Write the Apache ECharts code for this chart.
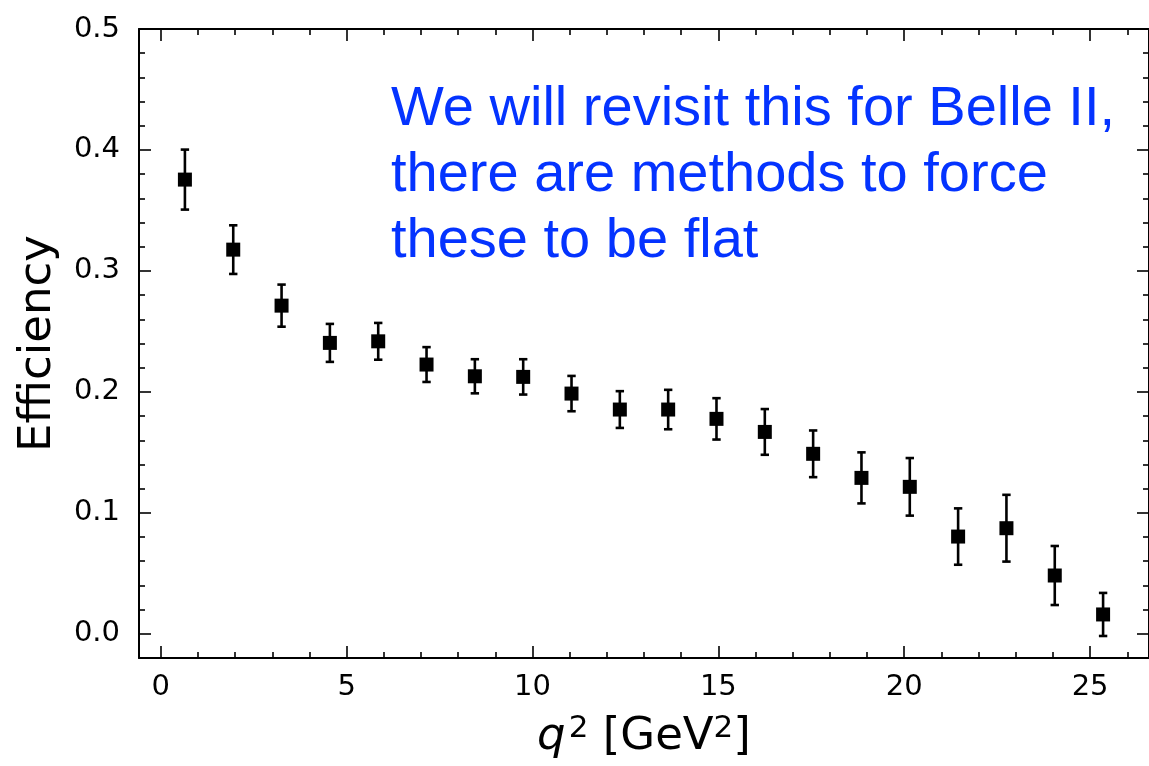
<!DOCTYPE html>
<html>
<head>
<meta charset="utf-8">
<title>Efficiency vs q2</title>
<script src="https://cdn.jsdelivr.net/npm/echarts@6/dist/echarts.min.js"></script>
<style>
  html, body { margin: 0; padding: 0; background: #fff; }
  #chart { width: 1149px; height: 766px; }
</style>
</head>
<body>
<div id="chart"></div>
<script>
// q^2 bin centres [GeV^2]
const q2 = [0.65, 1.95, 3.25, 4.55, 5.85, 7.15, 8.45, 9.75, 11.05, 12.35,
            13.65, 14.95, 16.25, 17.55, 18.85, 20.15, 21.45, 22.75, 24.05, 25.35];
// efficiency per bin
const eff = [0.3755, 0.3176, 0.2713, 0.2405, 0.2418, 0.2226, 0.2129, 0.2124, 0.1986, 0.1854,
             0.1854, 0.1777, 0.1669, 0.1488, 0.1289, 0.1215, 0.0804, 0.0873, 0.0482, 0.0160];
// symmetric uncertainty per bin
const err = [0.0248, 0.0201, 0.0174, 0.0157, 0.0152, 0.0144, 0.0141, 0.0146, 0.0146, 0.0152,
             0.0163, 0.0171, 0.0189, 0.0193, 0.0211, 0.0238, 0.0233, 0.0276, 0.0244, 0.0178];

// axis ticks
const xMajor = [0, 5, 10, 15, 20, 25];
const xMinor = [1, 2, 3, 4, 6, 7, 8, 9, 11, 12, 13, 14, 16, 17, 18, 19, 21, 22, 23, 24, 26];
const yMajor = [0.0, 0.1, 0.2, 0.3, 0.4, 0.5];
const yMinor = [0.02, 0.04, 0.06, 0.08, 0.12, 0.14, 0.16, 0.18, 0.22, 0.24, 0.26, 0.28,
                0.32, 0.34, 0.36, 0.38, 0.42, 0.44, 0.46, 0.48];

const X_MIN = -0.585, X_MAX = 26.585;
const Y_MIN = -0.02, Y_MAX = 0.5;

const note = 'We will revisit this for Belle II,\nthere are methods to force\nthese to be flat';

const FONT = 'DejaVu Sans';
const gridRect = { left: 139, top: 29, width: 1012, height: 629 };

function xAx(grid, pos, ticks, len, major, withLine) {
  return {
    type: 'value', gridIndex: grid, position: pos, min: X_MIN, max: X_MAX,
    axisLine: { show: withLine, onZero: false, lineStyle: { color: '#000', width: 2 } },
    axisTick: { show: true, inside: true, length: len, customValues: ticks,
                lineStyle: { color: '#000', width: 1.6 } },
    axisLabel: major && pos === 'bottom'
      ? { show: true, customValues: ticks, fontSize: 29, fontFamily: FONT, color: '#000', margin: 15,
          formatter: v => String(Math.round(v)) }
      : { show: false },
    splitLine: { show: false }
  };
}
function yAx(grid, pos, ticks, len, major, withLine) {
  return {
    type: 'value', gridIndex: grid, position: pos, min: Y_MIN, max: Y_MAX,
    axisLine: { show: withLine, onZero: false, lineStyle: { color: '#000', width: 2 } },
    axisTick: { show: true, inside: true, length: len, customValues: ticks,
                lineStyle: { color: '#000', width: 1.6 } },
    axisLabel: major && pos === 'left'
      ? { show: true, customValues: ticks, fontSize: 29, fontFamily: FONT, color: '#000', margin: 19,
          formatter: v => v.toFixed(1) }
      : { show: false },
    splitLine: { show: false }
  };
}

const xAxes = [
  xAx(0, 'bottom', xMajor, 12, true, true),
  xAx(0, 'top', xMajor, 12, true, true),
  xAx(1, 'bottom', xMinor, 6, false, false),
  xAx(1, 'top', xMinor, 6, false, false)
];
Object.assign(xAxes[0], {
  name: '{q|q}{sup|2}{m| [GeV}{sup|2}{m|]}',
  nameLocation: 'middle', nameGap: 55,
  nameTextStyle: {
    fontFamily: FONT, fontSize: 45, lineHeight: 48, color: '#000',
    rich: {
      q: { fontFamily: FONT, fontSize: 45, lineHeight: 48, fontStyle: 'italic', color: '#000', padding: [0, 3, 0, 0] },
      m: { fontFamily: FONT, fontSize: 45, lineHeight: 48, color: '#000' },
      sup: { fontFamily: FONT, fontSize: 31, lineHeight: 31, color: '#000', verticalAlign: 'top' }
    }
  }
});

const yAxes = [
  yAx(0, 'left', yMajor, 12, true, true),
  yAx(0, 'right', yMajor, 12, true, true),
  yAx(1, 'left', yMinor, 6, false, false),
  yAx(1, 'right', yMinor, 6, false, false)
];
Object.assign(yAxes[0], {
  name: 'Efficiency', nameLocation: 'middle', nameGap: 78, nameRotate: 90,
  nameTextStyle: { fontFamily: FONT, fontSize: 45, color: '#000' }
});

const errData = q2.map((x, i) => [x, eff[i] - err[i], eff[i] + err[i]]);
const ptData = q2.map((x, i) => [x, eff[i]]);

const chart = echarts.init(document.getElementById('chart'), null, { renderer: 'canvas' });
chart.setOption({
  animation: false,
  backgroundColor: '#fff',
  grid: [Object.assign({}, gridRect), Object.assign({}, gridRect)],
  xAxis: xAxes,
  yAxis: yAxes,
  series: [
    {
      type: 'custom', xAxisIndex: 0, yAxisIndex: 0, z: 2,
      data: errData,
      encode: { x: 0, y: [1, 2] },
      renderItem: (params, api) => {
        const x = api.value(0);
        const lo = api.coord([x, api.value(1)]);
        const hi = api.coord([x, api.value(2)]);
        const hw = 4.2;
        const st = { stroke: '#000', lineWidth: 2.6 };
        return {
          type: 'group',
          children: [
            { type: 'line', shape: { x1: lo[0], y1: lo[1], x2: hi[0], y2: hi[1] }, style: st },
            { type: 'line', shape: { x1: lo[0] - hw, y1: lo[1], x2: lo[0] + hw, y2: lo[1] }, style: st },
            { type: 'line', shape: { x1: hi[0] - hw, y1: hi[1], x2: hi[0] + hw, y2: hi[1] }, style: st }
          ]
        };
      }
    },
    {
      type: 'scatter', xAxisIndex: 0, yAxisIndex: 0, z: 3,
      symbol: 'rect', symbolSize: 14,
      itemStyle: { color: '#000', opacity: 1 },
      data: ptData
    }
  ],
  graphic: [
    {
      type: 'text', left: 391, top: 77, z: 10,
      style: {
        text: note,
        fontFamily: 'Liberation Sans, Arial, Helvetica, sans-serif',
        fontSize: 56, lineHeight: 66,
        fill: '#0433ff'
      }
    }
  ]
});
</script>
</body>
</html>
